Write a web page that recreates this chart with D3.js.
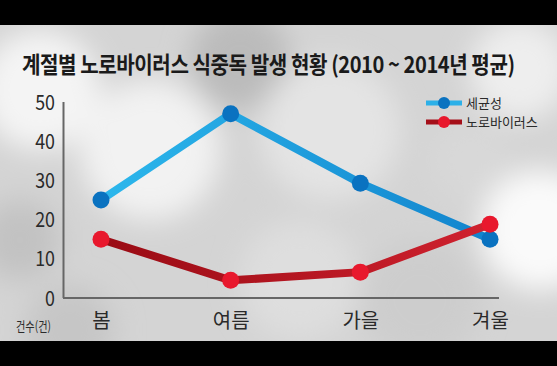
<!DOCTYPE html>
<html><head><meta charset="utf-8">
<script src="https://cdn.jsdelivr.net/npm/d3@7/dist/d3.min.js"></script>
<style>html,body{margin:0;padding:0;background:#000;}svg{display:block;}</style>
</head><body>
<script>
const seasons = ["봄", "여름", "가을", "겨울"];
const bacteria = [25, 47, 29.3, 15];
const norovirus = [15, 4.5, 6.6, 18.8];
const yTicks = [0, 10, 20, 30, 40, 50];
const seriesNames = ["세균성", "노로바이러스"];
const title = "계절별 노로바이러스 식중독 발생 현황 (2010 ~ 2014년 평균)";
const yUnit = "건수(건)";

const W = 557, H = 366;
const svg = d3.select("body").append("svg").attr("width", W).attr("height", H);
const defs = svg.append("defs");
const blur = defs.append("filter").attr("id", "blur").attr("x", "-50%").attr("y", "-50%").attr("width", "200%").attr("height", "200%");
blur.append("feGaussianBlur").attr("stdDeviation", 14);

const gBlue = defs.append("linearGradient").attr("id", "gBlue").attr("gradientUnits", "userSpaceOnUse")
  .attr("x1", 101).attr("x2", 490).attr("y1", 0).attr("y2", 0);
gBlue.append("stop").attr("offset", "0%").attr("stop-color", "#2cb7ec");
gBlue.append("stop").attr("offset", "100%").attr("stop-color", "#1284cd");
const gRed = defs.append("linearGradient").attr("id", "gRed").attr("gradientUnits", "userSpaceOnUse")
  .attr("x1", 101).attr("x2", 490).attr("y1", 0).attr("y2", 0);
gRed.append("stop").attr("offset", "0%").attr("stop-color", "#990b14");
gRed.append("stop").attr("offset", "100%").attr("stop-color", "#d0222f");

// background
svg.append("rect").attr("x", 0).attr("y", 0).attr("width", W).attr("height", H).attr("fill", "#000");
const bg = svg.append("g");
bg.append("rect").attr("x", 0).attr("y", 25).attr("width", W).attr("height", 316).attr("fill", "#d4d4d4");
const blobs = bg.append("g").attr("filter", "url(#blur)");
[[40, 90, 60, "#f4f4f4"], [150, 150, 70, "#f2f2f2"], [70, 330, 45, "#c6c6c6"], [240, 60, 50, "#bbbbbb"],
 [330, 130, 70, "#e4e4e4"], [540, 230, 60, "#fafafa"], [520, 70, 50, "#eeeeee"], [420, 300, 60, "#cdcdcd"],
 [20, 240, 40, "#c2c2c2"], [300, 280, 60, "#dedede"], [470, 160, 40, "#d8d8d8"]]
 .forEach(d => blobs.append("circle").attr("cx", d[0]).attr("cy", d[1]).attr("r", d[2]).attr("fill", d[3]));
bg.append("rect").attr("x", 0).attr("y", 341).attr("width", W).attr("height", 25).attr("fill", "#000");
bg.append("rect").attr("x", 0).attr("y", 0).attr("width", W).attr("height", 25).attr("fill", "#000");

const font = "'Noto Sans CJK KR', 'Noto Sans', sans-serif";

// title, condensed by horizontal scaling to the reference width
const tg = svg.append("g").attr("transform", "translate(22,73)");
const tt = tg.append("text").attr("x", 0).attr("y", 0).attr("font-family", font).attr("font-size", 23)
  .attr("font-weight", 700).attr("fill", "#1a1a1a").attr("letter-spacing", -0.5).text(title);
const tw = tt.node().getComputedTextLength();
tt.attr("transform", `scale(${493 / tw},1)`);

const x = d3.scalePoint().domain(seasons).range([101, 490]);
const y = d3.scaleLinear().domain([0, 50]).range([298, 102]);

// axes
const yAxis = svg.append("g").attr("transform", "translate(63,0)")
  .call(d3.axisLeft(y).tickValues(yTicks).tickSize(0).tickPadding(8));
yAxis.select(".domain").remove();
yAxis.selectAll("text").attr("font-family", font).attr("font-size", 21).attr("fill", "#2a2a2a")
  .attr("transform", "scale(0.85,1)").attr("dy", "0.34em").attr("x", -8 / 0.85);

svg.append("line").attr("x1", 63.5).attr("x2", 63.5).attr("y1", y(50)).attr("y2", y(0)).attr("stroke", "#666").attr("stroke-width", 2);
svg.append("line").attr("x1", 63).attr("x2", 499).attr("y1", y(0)).attr("y2", y(0)).attr("stroke", "#666").attr("stroke-width", 2);

const xAxis = svg.append("g").attr("transform", "translate(0,314)")
  .call(d3.axisBottom(x).tickSize(0).tickPadding(0));
xAxis.select(".domain").remove();
xAxis.selectAll("text").attr("font-family", font).attr("font-size", 20).attr("fill", "#2a2a2a").attr("dy", "0.71em");

svg.append("text").attr("x", 16).attr("y", 331).attr("font-family", font).attr("font-size", 13)
  .attr("fill", "#2a2a2a").attr("textLength", 35).attr("lengthAdjust", "spacingAndGlyphs").text(yUnit);

const line = d3.line().x((d, i) => x(seasons[i])).y(d => y(d));
function drawSeries(vals, stroke, dot) {
  svg.append("path").datum(vals).attr("d", line).attr("fill", "none").attr("stroke", stroke)
    .attr("stroke-width", 8).attr("stroke-linejoin", "round");
  svg.append("g").selectAll("circle").data(vals).join("circle")
    .attr("cx", (d, i) => x(seasons[i])).attr("cy", d => y(d)).attr("r", 8.5).attr("fill", dot);
}
drawSeries(bacteria, "url(#gBlue)", "#0a72c0");
drawSeries(norovirus, "url(#gRed)", "#e8182d");

// legend
const leg = svg.append("g");
[[seriesNames[0], "#2cb0e8", "#0a72c0", 103], [seriesNames[1], "#a50f19", "#e8182d", 122]].forEach(d => {
  leg.append("line").attr("x1", 426).attr("x2", 462).attr("y1", d[3]).attr("y2", d[3]).attr("stroke", d[1]).attr("stroke-width", 5);
  leg.append("circle").attr("cx", 444).attr("cy", d[3]).attr("r", 6).attr("fill", d[2]);
  leg.append("text").attr("x", 466).attr("y", d[3]).attr("dy", "0.35em").attr("font-family", font)
    .attr("font-size", 13).attr("fill", "#2a2a2a").text(d[0]);
});
</script>
</body></html>
